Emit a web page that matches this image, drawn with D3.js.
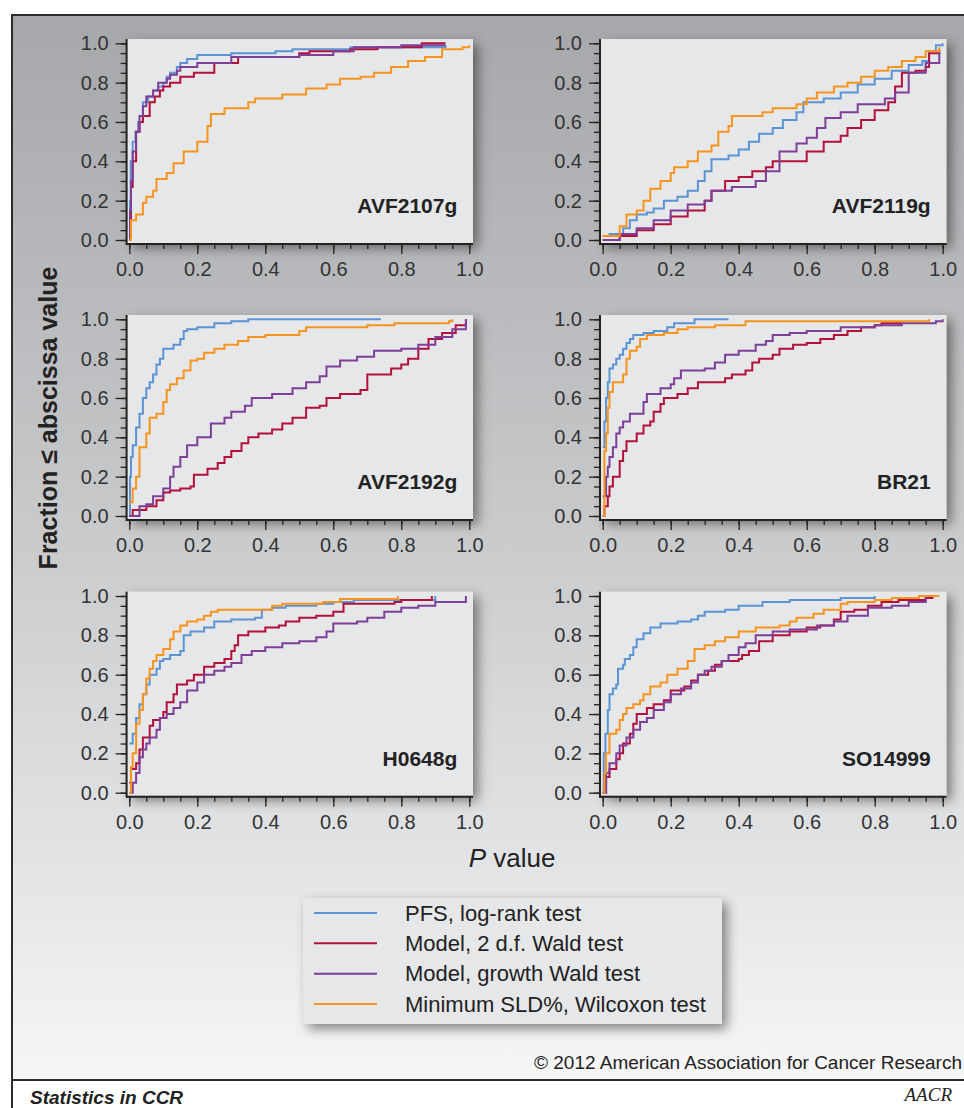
<!DOCTYPE html>
<html>
<head>
<meta charset="utf-8">
<script src="https://cdn.jsdelivr.net/npm/d3@7"></script>
<style>
body { margin: 0; background: #fff; }
svg { display: block; }
text { font-family: "Liberation Sans", Arial, Helvetica, sans-serif; }
</style>
</head>
<body>
<div id="chart"></div>
<script>
var WIDTH = 964;
var HEIGHT = 1108;
var PLOT_W = 340;
var PLOT_H = 196.7;
var COL_X = [129.3, 602.7];
var ROW_Y = [43.3, 319.3, 596];

var panelNames = ["AVF2107g", "AVF2119g", "AVF2192g", "BR21", "H0648g", "SO14999"];
var seriesNames = ["PFS, log-rank test", "Model, 2 d.f. Wald test", "Model, growth Wald test", "Minimum SLD%, Wilcoxon test"];
var seriesColors = ["#5b93d3", "#b3103c", "#7d3f98", "#f7941d"];
var majorTicks = [0, 0.2, 0.4, 0.6, 0.8, 1.0];
var minorTicks = d3.range(0, 1.0001, 0.05);

// each curve: [P value, fraction <= P value]
var avf2107g_pfs = [[0,0],[0.002,0.2],[0.004,0.4],[0.01,0.5],[0.018,0.55],[0.026,0.6],[0.04,0.7],[0.055,0.73],[0.07,0.76],[0.085,0.78],[0.1,0.8],[0.11,0.83],[0.12,0.85],[0.14,0.88],[0.15,0.9],[0.17,0.92],[0.2,0.94],[0.3,0.95],[0.43,0.96],[0.48,0.97],[0.65,0.98],[0.93,0.99]];
var avf2107g_wald2 = [[0,0],[0.005,0.27],[0.01,0.4],[0.02,0.55],[0.03,0.6],[0.04,0.63],[0.06,0.7],[0.075,0.73],[0.09,0.76],[0.1,0.78],[0.12,0.8],[0.15,0.83],[0.19,0.85],[0.25,0.9],[0.32,0.93],[0.5,0.95],[0.53,0.96],[0.65,0.97],[0.73,0.98],[0.86,1.0],[0.93,1.0]];
var avf2107g_growth = [[0,0],[0.002,0.15],[0.005,0.3],[0.01,0.45],[0.02,0.55],[0.03,0.63],[0.04,0.68],[0.05,0.73],[0.07,0.76],[0.085,0.8],[0.11,0.82],[0.12,0.84],[0.14,0.86],[0.15,0.88],[0.2,0.9],[0.3,0.93],[0.5,0.94],[0.6,0.96],[0.66,0.98],[0.8,0.99],[0.93,0.99]];
var avf2107g_sld = [[0,0],[0.005,0.1],[0.02,0.13],[0.04,0.19],[0.05,0.22],[0.07,0.25],[0.08,0.31],[0.11,0.34],[0.13,0.39],[0.16,0.45],[0.2,0.5],[0.23,0.58],[0.24,0.64],[0.28,0.67],[0.35,0.7],[0.37,0.72],[0.45,0.74],[0.52,0.77],[0.58,0.79],[0.62,0.82],[0.68,0.83],[0.72,0.85],[0.77,0.88],[0.82,0.91],[0.87,0.93],[0.92,0.97],[0.98,0.98],[1.0,0.99]];

var avf2119g_pfs = [[0,0.02],[0.02,0.03],[0.06,0.06],[0.08,0.1],[0.1,0.13],[0.13,0.14],[0.15,0.16],[0.18,0.2],[0.22,0.22],[0.25,0.25],[0.28,0.3],[0.3,0.35],[0.32,0.41],[0.37,0.43],[0.4,0.46],[0.43,0.5],[0.46,0.54],[0.5,0.57],[0.53,0.61],[0.57,0.65],[0.59,0.7],[0.65,0.72],[0.7,0.75],[0.75,0.79],[0.8,0.82],[0.85,0.86],[0.9,0.89],[0.94,0.91],[0.96,0.96],[0.98,0.99],[1.0,1.0]];
var avf2119g_wald2 = [[0,0],[0.05,0.02],[0.1,0.05],[0.15,0.08],[0.2,0.12],[0.25,0.15],[0.3,0.2],[0.32,0.25],[0.36,0.3],[0.4,0.32],[0.44,0.35],[0.48,0.37],[0.5,0.4],[0.57,0.4],[0.6,0.45],[0.65,0.5],[0.7,0.53],[0.72,0.57],[0.76,0.61],[0.8,0.66],[0.84,0.7],[0.86,0.78],[0.88,0.85],[0.92,0.86],[0.95,0.88],[0.96,0.95],[0.99,0.97]];
var avf2119g_growth = [[0,0],[0.05,0.03],[0.1,0.06],[0.15,0.1],[0.2,0.15],[0.25,0.18],[0.3,0.2],[0.32,0.25],[0.38,0.27],[0.45,0.3],[0.48,0.35],[0.52,0.45],[0.57,0.49],[0.6,0.52],[0.63,0.57],[0.655,0.62],[0.7,0.65],[0.75,0.69],[0.83,0.72],[0.86,0.75],[0.9,0.85],[0.95,0.9],[0.99,0.96]];
var avf2119g_sld = [[0,0.02],[0.05,0.07],[0.07,0.13],[0.1,0.15],[0.12,0.2],[0.14,0.26],[0.17,0.3],[0.2,0.34],[0.21,0.37],[0.25,0.4],[0.28,0.45],[0.32,0.48],[0.34,0.55],[0.37,0.58],[0.38,0.63],[0.47,0.65],[0.5,0.67],[0.57,0.69],[0.6,0.72],[0.63,0.75],[0.68,0.78],[0.72,0.8],[0.76,0.83],[0.8,0.86],[0.84,0.88],[0.88,0.91],[0.92,0.93],[0.95,0.96],[0.99,0.98]];

var avf2192g_pfs = [[0,0],[0.002,0.2],[0.005,0.3],[0.01,0.36],[0.02,0.45],[0.03,0.52],[0.04,0.6],[0.05,0.65],[0.06,0.68],[0.07,0.72],[0.08,0.77],[0.09,0.8],[0.1,0.85],[0.13,0.87],[0.15,0.9],[0.16,0.94],[0.17,0.95],[0.2,0.96],[0.25,0.98],[0.3,0.99],[0.35,1.0],[0.74,1.0]];
var avf2192g_wald2 = [[0,0],[0.01,0.03],[0.05,0.05],[0.08,0.08],[0.1,0.12],[0.12,0.13],[0.15,0.14],[0.18,0.15],[0.19,0.21],[0.23,0.24],[0.26,0.27],[0.28,0.3],[0.3,0.33],[0.33,0.37],[0.35,0.4],[0.38,0.42],[0.42,0.44],[0.45,0.47],[0.48,0.5],[0.52,0.55],[0.56,0.56],[0.58,0.6],[0.62,0.62],[0.68,0.64],[0.7,0.72],[0.74,0.72],[0.77,0.75],[0.8,0.77],[0.82,0.8],[0.85,0.85],[0.88,0.9],[0.92,0.93],[0.96,0.97],[0.99,1.0]];
var avf2192g_growth = [[0,0],[0.03,0.05],[0.05,0.06],[0.07,0.1],[0.1,0.14],[0.12,0.2],[0.13,0.25],[0.15,0.3],[0.17,0.36],[0.2,0.4],[0.24,0.47],[0.28,0.5],[0.3,0.53],[0.34,0.56],[0.36,0.6],[0.42,0.62],[0.48,0.65],[0.52,0.68],[0.56,0.71],[0.58,0.76],[0.62,0.79],[0.67,0.81],[0.72,0.84],[0.8,0.85],[0.85,0.87],[0.9,0.91],[0.95,0.95],[0.99,1.0]];
var avf2192g_sld = [[0,0.07],[0.01,0.14],[0.02,0.2],[0.03,0.35],[0.05,0.42],[0.06,0.5],[0.08,0.52],[0.1,0.58],[0.11,0.64],[0.12,0.67],[0.14,0.7],[0.16,0.74],[0.18,0.79],[0.2,0.8],[0.22,0.83],[0.25,0.85],[0.28,0.87],[0.32,0.89],[0.35,0.91],[0.4,0.92],[0.5,0.94],[0.52,0.96],[0.7,0.97],[0.78,0.98],[0.94,0.99],[0.95,1.0]];

var br21_pfs = [[0,0.35],[0.005,0.48],[0.01,0.6],[0.015,0.68],[0.02,0.75],[0.03,0.77],[0.04,0.8],[0.05,0.82],[0.06,0.85],[0.07,0.88],[0.08,0.9],[0.09,0.92],[0.12,0.93],[0.15,0.94],[0.19,0.96],[0.21,0.98],[0.27,1.0],[0.37,1.0]];
var br21_wald2 = [[0,0],[0.005,0.05],[0.015,0.1],[0.02,0.15],[0.03,0.2],[0.05,0.28],[0.06,0.33],[0.07,0.38],[0.1,0.42],[0.12,0.46],[0.14,0.48],[0.15,0.53],[0.17,0.57],[0.18,0.6],[0.22,0.62],[0.25,0.65],[0.28,0.68],[0.36,0.7],[0.38,0.72],[0.42,0.74],[0.44,0.78],[0.46,0.8],[0.5,0.82],[0.52,0.85],[0.56,0.87],[0.6,0.88],[0.64,0.9],[0.68,0.92],[0.72,0.94],[0.76,0.96],[0.8,0.97],[0.82,0.98],[0.88,0.98]];
var br21_growth = [[0,0.1],[0.01,0.2],[0.015,0.25],[0.02,0.3],[0.03,0.35],[0.04,0.42],[0.05,0.45],[0.06,0.48],[0.08,0.52],[0.12,0.58],[0.13,0.62],[0.17,0.65],[0.2,0.67],[0.21,0.7],[0.23,0.74],[0.3,0.75],[0.33,0.78],[0.36,0.82],[0.4,0.84],[0.45,0.87],[0.48,0.89],[0.5,0.92],[0.55,0.93],[0.6,0.94],[0.7,0.96],[0.8,0.97],[0.88,0.98],[0.98,0.99],[1.0,1.0]];
var br21_sld = [[0,0],[0.005,0.33],[0.01,0.42],[0.015,0.55],[0.02,0.63],[0.03,0.68],[0.05,0.68],[0.06,0.72],[0.07,0.8],[0.08,0.84],[0.1,0.86],[0.11,0.9],[0.13,0.92],[0.18,0.93],[0.22,0.95],[0.25,0.96],[0.33,0.97],[0.42,0.99],[0.96,1.0]];

var h0648g_pfs = [[0,0.25],[0.01,0.3],[0.02,0.38],[0.03,0.45],[0.04,0.5],[0.05,0.55],[0.06,0.6],[0.08,0.63],[0.09,0.67],[0.1,0.68],[0.12,0.7],[0.15,0.72],[0.16,0.8],[0.18,0.82],[0.22,0.84],[0.25,0.87],[0.3,0.88],[0.37,0.89],[0.39,0.93],[0.42,0.94],[0.46,0.95],[0.55,0.96],[0.6,0.97],[0.66,0.98],[0.9,1.0]];
var h0648g_wald2 = [[0,0.05],[0.005,0.12],[0.02,0.15],[0.03,0.22],[0.04,0.28],[0.06,0.34],[0.07,0.37],[0.09,0.38],[0.1,0.41],[0.11,0.46],[0.13,0.5],[0.14,0.55],[0.17,0.57],[0.19,0.6],[0.22,0.64],[0.25,0.66],[0.28,0.68],[0.3,0.72],[0.31,0.75],[0.32,0.8],[0.35,0.82],[0.4,0.84],[0.44,0.85],[0.46,0.87],[0.5,0.89],[0.55,0.9],[0.6,0.92],[0.63,0.96],[0.66,0.96],[0.78,0.97],[0.8,0.98],[0.89,1.0]];
var h0648g_growth = [[0,0],[0.01,0.05],[0.02,0.1],[0.03,0.18],[0.04,0.22],[0.05,0.25],[0.06,0.28],[0.08,0.32],[0.09,0.38],[0.11,0.4],[0.13,0.43],[0.15,0.46],[0.17,0.52],[0.2,0.56],[0.22,0.6],[0.25,0.62],[0.28,0.64],[0.3,0.66],[0.33,0.7],[0.36,0.72],[0.4,0.74],[0.45,0.76],[0.5,0.77],[0.55,0.79],[0.58,0.82],[0.6,0.86],[0.67,0.87],[0.7,0.89],[0.75,0.92],[0.8,0.94],[0.85,0.95],[0.9,0.97],[0.98,0.97],[0.99,1.0]];
var h0648g_sld = [[0,0],[0.005,0.13],[0.01,0.2],[0.02,0.35],[0.03,0.42],[0.04,0.5],[0.05,0.58],[0.06,0.63],[0.07,0.67],[0.08,0.7],[0.1,0.73],[0.12,0.78],[0.13,0.82],[0.15,0.85],[0.17,0.87],[0.2,0.88],[0.22,0.9],[0.24,0.92],[0.26,0.93],[0.42,0.95],[0.45,0.96],[0.57,0.97],[0.62,0.985],[0.79,1.0]];

var so14999_pfs = [[0,0],[0.003,0.2],[0.008,0.3],[0.015,0.42],[0.02,0.5],[0.03,0.53],[0.04,0.55],[0.045,0.63],[0.06,0.65],[0.065,0.68],[0.08,0.7],[0.09,0.74],[0.1,0.78],[0.12,0.81],[0.14,0.84],[0.17,0.86],[0.22,0.87],[0.26,0.88],[0.28,0.9],[0.3,0.92],[0.36,0.93],[0.4,0.95],[0.47,0.97],[0.55,0.98],[0.7,0.99],[0.8,1.0]];
var so14999_wald2 = [[0,0],[0.01,0.08],[0.02,0.12],[0.04,0.17],[0.05,0.2],[0.06,0.25],[0.08,0.3],[0.09,0.35],[0.1,0.4],[0.13,0.43],[0.15,0.45],[0.18,0.47],[0.2,0.52],[0.24,0.54],[0.26,0.57],[0.28,0.6],[0.31,0.62],[0.33,0.65],[0.35,0.67],[0.4,0.68],[0.41,0.7],[0.43,0.72],[0.46,0.77],[0.5,0.8],[0.55,0.82],[0.6,0.84],[0.64,0.85],[0.68,0.88],[0.7,0.92],[0.74,0.93],[0.78,0.95],[0.82,0.97],[0.87,0.98],[0.95,0.99],[0.97,1.0]];
var so14999_growth = [[0,0],[0.01,0.1],[0.02,0.15],[0.04,0.2],[0.05,0.24],[0.07,0.28],[0.09,0.32],[0.11,0.36],[0.13,0.38],[0.15,0.42],[0.18,0.46],[0.2,0.5],[0.23,0.53],[0.26,0.56],[0.28,0.6],[0.3,0.62],[0.32,0.64],[0.35,0.67],[0.37,0.7],[0.4,0.74],[0.42,0.76],[0.45,0.8],[0.5,0.82],[0.55,0.83],[0.63,0.85],[0.68,0.87],[0.72,0.9],[0.78,0.94],[0.85,0.95],[0.9,0.97],[0.95,1.0]];
var so14999_sld = [[0,0],[0.005,0.1],[0.01,0.2],[0.02,0.3],[0.04,0.32],[0.05,0.37],[0.06,0.4],[0.07,0.43],[0.09,0.45],[0.11,0.47],[0.12,0.5],[0.14,0.54],[0.17,0.56],[0.19,0.6],[0.22,0.63],[0.25,0.67],[0.27,0.73],[0.3,0.75],[0.33,0.77],[0.36,0.79],[0.4,0.82],[0.45,0.84],[0.52,0.85],[0.55,0.87],[0.57,0.89],[0.62,0.91],[0.65,0.93],[0.7,0.96],[0.72,0.97],[0.8,0.98],[0.85,0.99],[0.93,1.0],[0.99,1.0]];

var panelSeries = [
	[avf2107g_pfs, avf2107g_wald2, avf2107g_growth, avf2107g_sld],
	[avf2119g_pfs, avf2119g_wald2, avf2119g_growth, avf2119g_sld],
	[avf2192g_pfs, avf2192g_wald2, avf2192g_growth, avf2192g_sld],
	[br21_pfs, br21_wald2, br21_growth, br21_sld],
	[h0648g_pfs, h0648g_wald2, h0648g_growth, h0648g_sld],
	[so14999_pfs, so14999_wald2, so14999_growth, so14999_sld]
];

var svg = d3.select("#chart")
	.append("svg")
	.attr("width", WIDTH)
	.attr("height", HEIGHT);

var defs = svg.append("defs");

var grad = defs.append("linearGradient")
	.attr("id", "bg")
	.attr("x1", 0).attr("y1", 0).attr("x2", 0).attr("y2", 1);
grad.append("stop").attr("offset", "0%").attr("stop-color", "#a6a7aa");
grad.append("stop").attr("offset", "45%").attr("stop-color", "#c6c7c9");
grad.append("stop").attr("offset", "80%").attr("stop-color", "#e3e4e5");
grad.append("stop").attr("offset", "100%").attr("stop-color", "#f6f6f6");

var shadow = defs.append("filter")
	.attr("id", "shadow")
	.attr("x", "-10%").attr("y", "-10%")
	.attr("width", "130%").attr("height", "130%");
shadow.append("feDropShadow")
	.attr("dx", 5).attr("dy", 5)
	.attr("stdDeviation", 6)
	.attr("flood-color", "#000")
	.attr("flood-opacity", 0.45);

// background frame
svg.append("rect")
	.attr("x", 12).attr("y", 14)
	.attr("width", WIDTH - 12).attr("height", 1080 - 14)
	.attr("fill", "url(#bg)");

svg.append("line").attr("x1", 11).attr("x2", WIDTH).attr("y1", 15).attr("y2", 15)
	.attr("stroke", "#2b2b2b").attr("stroke-width", 2);
svg.append("line").attr("x1", 12).attr("x2", 12).attr("y1", 14).attr("y2", HEIGHT)
	.attr("stroke", "#2b2b2b").attr("stroke-width", 2);
svg.append("line").attr("x1", 11).attr("x2", WIDTH).attr("y1", 1080).attr("y2", 1080)
	.attr("stroke", "#2b2b2b").attr("stroke-width", 2);

var stepLine = d3.line().curve(d3.curveStepAfter);

panelNames.forEach(function (name, i) {
	var x0 = COL_X[i % 2];
	var yTop = ROW_Y[Math.floor(i / 2)];
	var xScale = d3.scaleLinear().domain([0, 1]).range([x0, x0 + PLOT_W]);
	var yScale = d3.scaleLinear().domain([0, 1]).range([yTop + PLOT_H, yTop]);

	var g = svg.append("g").attr("class", "panel");

	// plot area
	g.append("rect")
		.attr("x", x0 - 2.3)
		.attr("y", yTop - 4.3)
		.attr("width", PLOT_W + 6)
		.attr("height", PLOT_H + 7.3)
		.attr("fill", "#e6e7e9")
		.attr("filter", "url(#shadow)");

	var axisX = x0 - 2.7;
	var axisY = yScale(0) + 4;

	// y axis: minor then major
	g.append("g")
		.attr("transform", "translate(" + axisX + ",0)")
		.call(d3.axisLeft(yScale).tickValues(minorTicks).tickSize(6).tickFormat(""))
		.call(function (a) { a.select(".domain").remove(); });
	g.append("g")
		.attr("transform", "translate(" + axisX + ",0)")
		.call(d3.axisLeft(yScale).tickValues(majorTicks).tickSize(11).tickPadding(7).tickFormat(d3.format(".1f")))
		.call(function (a) {
			a.select(".domain").remove();
			a.selectAll("text").style("font-size", "20px").attr("fill", "#333");
		});

	// x axis
	g.append("g")
		.attr("transform", "translate(0," + axisY + ")")
		.call(d3.axisBottom(xScale).tickValues(minorTicks).tickSize(5).tickFormat(""))
		.call(function (a) { a.select(".domain").remove(); });
	g.append("g")
		.attr("transform", "translate(0," + axisY + ")")
		.call(d3.axisBottom(xScale).tickValues(majorTicks).tickSize(10).tickPadding(8).tickFormat(d3.format(".1f")))
		.call(function (a) {
			a.select(".domain").remove();
			a.selectAll("text").style("font-size", "20px").attr("fill", "#333");
		});

	g.selectAll(".tick line").attr("stroke", "#222").attr("stroke-width", 1.3);

	g.append("line")
		.attr("x1", axisX).attr("x2", axisX)
		.attr("y1", yTop - 4.3).attr("y2", axisY + 1)
		.attr("stroke", "#222").attr("stroke-width", 2);
	g.append("line")
		.attr("x1", axisX).attr("x2", x0 + PLOT_W + 3.7)
		.attr("y1", axisY).attr("y2", axisY)
		.attr("stroke", "#222").attr("stroke-width", 2);

	// curves
	panelSeries[i].forEach(function (pts, s) {
		g.append("path")
			.attr("d", stepLine(pts.map(function (p) { return [xScale(p[0]), yScale(p[1])]; })))
			.attr("fill", "none")
			.attr("stroke", seriesColors[s])
			.attr("stroke-width", 2)
			.attr("stroke-linejoin", "miter");
	});

	g.append("text")
		.attr("x", x0 + 328)
		.attr("y", yScale(0) - 27)
		.attr("text-anchor", "end")
		.style("font-size", "21px")
		.style("font-weight", "bold")
		.attr("fill", "#222")
		.text(name);
});

// axis titles
svg.append("text")
	.attr("transform", "translate(57,418) rotate(-90)")
	.attr("text-anchor", "middle")
	.style("font-size", "25px")
	.style("font-weight", "bold")
	.attr("fill", "#222")
	.text("Fraction \u2264 abscissa value");

var xTitle = svg.append("text")
	.attr("x", 512)
	.attr("y", 867)
	.attr("text-anchor", "middle")
	.style("font-size", "26px")
	.attr("fill", "#222");
xTitle.append("tspan").style("font-style", "italic").text("P");
xTitle.append("tspan").text(" value");

// legend
var legend = svg.append("g").attr("class", "legend");
legend.append("rect")
	.attr("x", 303).attr("y", 898)
	.attr("width", 419).attr("height", 126)
	.attr("fill", "#e6e7e8")
	.attr("filter", "url(#shadow)");

var legendY = d3.scalePoint().domain(seriesNames).range([913, 1004]);

legend.selectAll("line.key")
	.data(seriesNames)
	.join("line")
	.attr("class", "key")
	.attr("x1", 314).attr("x2", 377)
	.attr("y1", function (d) { return legendY(d); })
	.attr("y2", function (d) { return legendY(d); })
	.attr("stroke", function (d, i) { return seriesColors[i]; })
	.attr("stroke-width", 2);

legend.selectAll("text")
	.data(seriesNames)
	.join("text")
	.attr("x", 405)
	.attr("y", function (d) { return legendY(d); })
	.attr("dy", "0.35em")
	.style("font-size", "22px")
	.attr("fill", "#222")
	.text(function (d) { return d; });

// credits
svg.append("text")
	.attr("x", 962).attr("y", 1069)
	.attr("text-anchor", "end")
	.style("font-size", "19px")
	.attr("fill", "#222")
	.text("\u00a9 2012 American Association for Cancer Research");

svg.append("text")
	.attr("x", 30).attr("y", 1104)
	.style("font-size", "19px")
	.style("font-weight", "bold")
	.style("font-style", "italic")
	.attr("fill", "#222")
	.text("Statistics in CCR");

svg.append("text")
	.attr("x", 952).attr("y", 1101)
	.attr("text-anchor", "end")
	.style("font-family", "'Liberation Serif', serif")
	.style("font-size", "19px")
	.style("font-style", "italic")
	.attr("fill", "#222")
	.text("AACR");
</script>
</body>
</html>
